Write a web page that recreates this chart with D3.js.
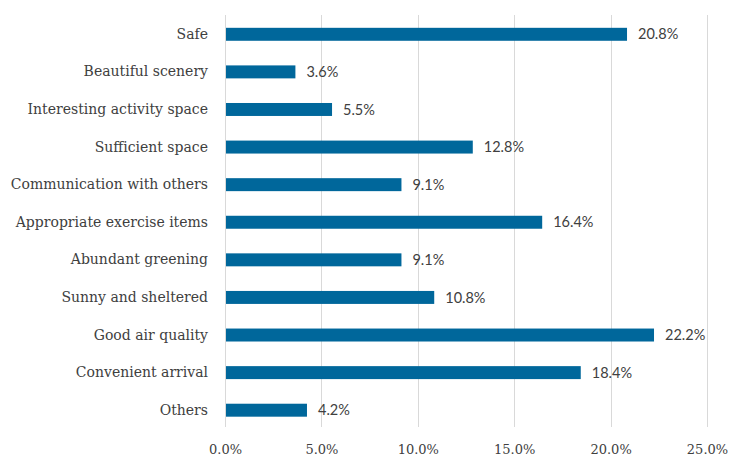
<!DOCTYPE html>
<html>
<head>
<meta charset="utf-8">
<script src="https://cdn.jsdelivr.net/npm/d3@7"></script>
<style>
  html, body { margin: 0; padding: 0; background: #fff; }
</style>
</head>
<body>
<div id="chart"></div>
<script>
// ── Data ──────────────────────────────────────────────
var categories = [
  "Safe", "Beautiful scenery", "Interesting activity space", "Sufficient space",
  "Communication with others", "Appropriate exercise items", "Abundant greening",
  "Sunny and sheltered", "Good air quality", "Convenient arrival", "Others"
];
var values = [20.8, 3.6, 5.5, 12.8, 9.1, 16.4, 9.1, 10.8, 22.2, 18.4, 4.2];
var xTicks = [0, 5, 10, 15, 20, 25];

var width = 732, height = 459;
var margin = { top: 15.5, left: 225 };
var plotW = 482, plotH = 413.5;

var svg = d3.select("#chart").append("svg")
  .attr("width", width).attr("height", height);
var g = svg.append("g")
  .attr("transform", "translate(" + margin.left + "," + margin.top + ")");

var x = d3.scaleLinear().domain([0, 25]).range([0, plotW]);
var y = d3.scaleBand().domain(categories).range([0, plotH])
  .paddingInner(0.655).paddingOuter(0.3275);

// grid lines
g.append("g")
  .selectAll("line").data(xTicks).join("line")
  .attr("x1", function (d) { return Math.round(x(d)) + 0.5; })
  .attr("x2", function (d) { return Math.round(x(d)) + 0.5; })
  .attr("y1", -0.5).attr("y2", plotH - 2)
  .attr("stroke", "#d9d9d9").attr("stroke-width", 1);

// bars
g.append("g")
  .selectAll("rect").data(values).join("rect")
  .attr("x", x(0) + 1)
  .attr("y", function (d, i) { return y(categories[i]); })
  .attr("width", function (d) { return x(d) - x(0); })
  .attr("height", y.bandwidth())
  .attr("fill", "#00679b");

// value labels
g.append("g")
  .selectAll("text").data(values).join("text")
  .attr("x", function (d) { return x(d) + 12; })
  .attr("y", function (d, i) { return y(categories[i]) + y.bandwidth() / 2; })
  .attr("dy", "0.35em")
  .attr("font-family", "Lato, 'Open Sans', sans-serif")
  .attr("font-size", 14.5)
  .attr("fill", "#404040")
  .text(function (d) { return d.toFixed(1) + "%"; });

// category axis
var yAxis = g.append("g")
  .call(d3.axisLeft(y).tickSize(0).tickPadding(17));
yAxis.select(".domain").remove();
yAxis.selectAll("text")
  .attr("font-family", "'DejaVu Serif', 'Liberation Serif', serif")
  .attr("font-size", 14)
  .attr("fill", "#404040");

// value axis
var xAxis = g.append("g")
  .attr("transform", "translate(0," + plotH + ")")
  .call(d3.axisBottom(x).tickValues(xTicks).tickSize(0).tickPadding(16)
    .tickFormat(function (d) { return d.toFixed(1) + "%"; }));
xAxis.select(".domain").remove();
xAxis.selectAll("text")
  .attr("font-family", "'DejaVu Serif', 'Liberation Serif', serif")
  .attr("font-size", 13)
  .attr("fill", "#404040");
</script>
</body>
</html>
